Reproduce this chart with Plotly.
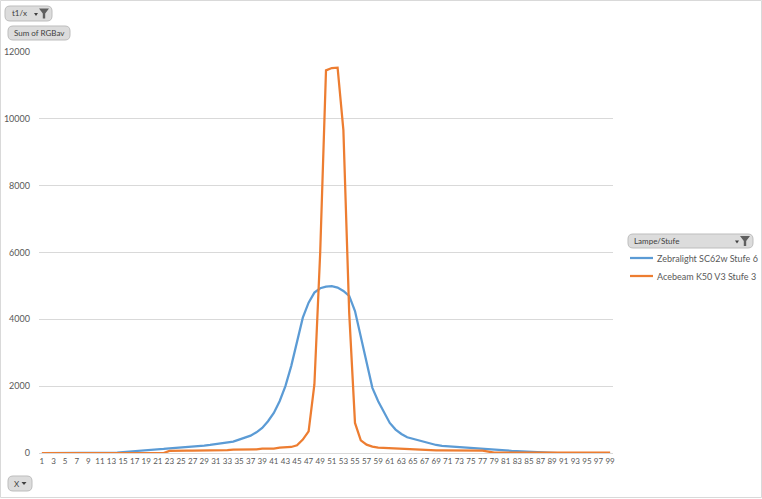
import plotly.graph_objects as go

# ---------------- data ----------------
x_cats = list(range(1, 100))

zebralight = [0]*13 + [
    10, 30, 40, 50, 70, 90, 100, 110, 120, 140, 150, 160, 170, 190, 200, 220, 240, 260,  # 14-31
    280, 300, 340, 400, 450, 520, 620, 750, 950, 1200, 1550, 2000, 2600, 3300, 4050,     # 32-46
    4500, 4800, 4930, 4980, 4990, 4950, 4850, 4700, 4250,                               # 47-55
    3450, 2650, 1950, 1550, 1200, 900, 700, 570, 470, 420, 390, 330, 280, 240, 210,     # 56-70
    200, 190, 175, 165, 160, 150, 140, 125, 110, 95, 80, 65, 55, 45, 35, 25, 15,        # 71-87
] + [0]*12

acebeam = [0]*22 + [
    60, 70, 70, 70, 70, 70, 70, 75, 75, 80, 85,          # 23-33
    100, 100, 100, 105, 110, 130, 130, 130, 160, 160,    # 34-43
    180, 230, 400, 650, 2050, 6000,                      # 44-49
    11450, 11520, 11530, 9660, 4200, 900,                # 50-55
    380, 250, 190, 160, 150, 140, 130, 120,              # 56-63
    110, 110, 110, 80, 75, 75, 75, 75, 75, 75, 75, 75, 75, 70,  # 64-77
    40,                                                  # 78
] + [10]*21

series_names = ["Zebralight SC62w Stufe 6", "Acebeam K50 V3 Stufe 3"]
series_colors = ["#5B9BD5", "#ED7D31"]
y_ticks = [0, 2000, 4000, 6000, 8000, 10000, 12000]
x_ticks = list(range(1, 100, 2))

# ---------------- geometry helpers ----------------
W, H = 762, 499
L, R, T, B = 39, 149, 52, 46
PW, PH = W - L - R, H - T - B
BOTTOM = H - B


def px(xp):
    return (xp - L) / PW


def py(yp):
    return (BOTTOM - yp) / PH


def rounded_rect(x0, y0, x1, y1, r=4):
    rx, ry = r / PW, r / PH
    a0, a1 = px(x0), px(x1)
    b0, b1 = py(y1), py(y0)
    return (f"M {a0+rx},{b0} L {a1-rx},{b0} Q {a1},{b0} {a1},{b0+ry} "
            f"L {a1},{b1-ry} Q {a1},{b1} {a1-rx},{b1} L {a0+rx},{b1} "
            f"Q {a0},{b1} {a0},{b1-ry} L {a0},{b0+ry} Q {a0},{b0} {a0+rx},{b0} Z")


def tri_down(cx, cy, w=5, h=3):
    return (f"M {px(cx-w/2)},{py(cy-h/2)} L {px(cx+w/2)},{py(cy-h/2)} "
            f"L {px(cx)},{py(cy+h/2)} Z")


def funnel(cx, cy):
    return (f"M {px(cx-5)},{py(cy-5)} L {px(cx+5)},{py(cy-5)} L {px(cx+1.2)},{py(cy)} "
            f"L {px(cx+1.2)},{py(cy+5)} L {px(cx-1.2)},{py(cy+5)} L {px(cx-1.2)},{py(cy)} Z")


fig = go.Figure()
for name, vals, col in zip(series_names, [zebralight, acebeam], series_colors):
    fig.add_trace(go.Scatter(x=x_cats, y=vals, mode="lines", name=name,
                             line=dict(color=col, width=2.25), showlegend=False))

FONT = "Lato, 'Liberation Sans', sans-serif"
TXT = "#595959"

shapes = []
annotations = []

# outer chart border
shapes.append(dict(type="rect", xref="paper", yref="paper",
                   x0=px(0.5), x1=px(W - 0.5), y0=py(H - 1.5), y1=py(0.5),
                   line=dict(color="#d9d9d9", width=1), fillcolor="rgba(0,0,0,0)", layer="below"))

buttons = [
    (5, 6, 52, 21, "t1/x", 10, True, True),
    (8, 26, 70, 40, "Sum of RGBav", 12, False, False),
    (8, 476, 32, 491, "X", 12, True, False),
    (628, 234, 753, 248, "Lampe/Stufe", 632, True, True),
]
for (x0, y0, x1, y1, text, tx, dd, flt) in buttons:
    shapes.append(dict(type="path", xref="paper", yref="paper", path=rounded_rect(x0, y0, x1, y1, 5),
                       fillcolor="#dcdcdc", line=dict(color="#bdbdbd", width=1)))
    annotations.append(dict(xref="paper", yref="paper", x=px(tx), y=py((y0 + y1) / 2),
                            xanchor="left", yanchor="middle", text=text, showarrow=False,
                            font=dict(family=FONT, size=8, color="#404040")))
    if dd and flt:
        shapes.append(dict(type="path", xref="paper", yref="paper", path=tri_down(x1 - 16, (y0 + y1) / 2 + 1, 4, 3),
                           fillcolor="#404040", line=dict(width=0)))
        shapes.append(dict(type="path", xref="paper", yref="paper", path=funnel(x1 - 8, (y0 + y1) / 2),
                           fillcolor="#606060", line=dict(width=0)))
    elif dd:
        shapes.append(dict(type="path", xref="paper", yref="paper", path=tri_down(x1 - 8, (y0 + y1) / 2, 5, 3),
                           fillcolor="#404040", line=dict(width=0)))

# legend (drawn manually to match the Excel layout)
for i, (name, col) in enumerate(zip(series_names, series_colors)):
    yy = 258 + 18 * i
    shapes.append(dict(type="line", xref="paper", yref="paper", x0=px(630), x1=px(653),
                       y0=py(yy), y1=py(yy), line=dict(color=col, width=2.25)))
    annotations.append(dict(xref="paper", yref="paper", x=px(655), y=py(yy),
                            xanchor="left", yanchor="middle", text=name, showarrow=False,
                            font=dict(family=FONT, size=9, color=TXT)))

fig.update_layout(
    width=W, height=H,
    margin=dict(l=L, r=R, t=T, b=B, pad=0, autoexpand=False),
    paper_bgcolor="white", plot_bgcolor="white",
    font=dict(family=FONT, size=9, color=TXT),
    showlegend=False,
    xaxis=dict(range=[0.5, 99.5], tickmode="array", tickvals=x_ticks,
               ticktext=[str(v) for v in x_ticks], showgrid=False, zeroline=False,
               showline=True, linecolor="#d9d9d9", linewidth=1, ticks="",
               tickangle=0, tickfont=dict(family=FONT, size=8, color=TXT)),
    yaxis=dict(range=[0, 12000], tickmode="array", tickvals=y_ticks,
               ticktext=[str(v) for v in y_ticks],
               showgrid=True, gridcolor="#d9d9d9", gridwidth=1, zeroline=False,
               showline=False, ticks="", ticklabelstandoff=8,
               tickfont=dict(family=FONT, size=9, color=TXT)),
    shapes=shapes, annotations=annotations,
)

fig.write_html("out.html")
